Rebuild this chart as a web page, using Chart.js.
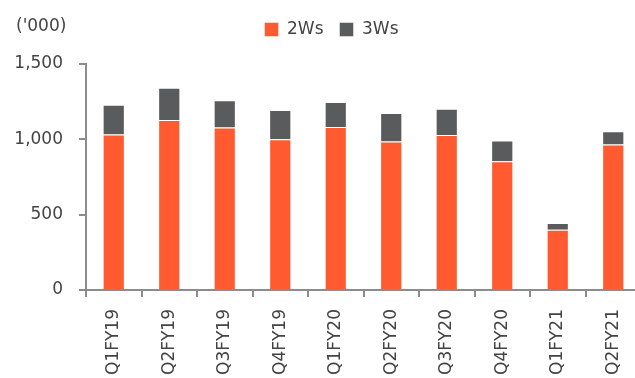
<!DOCTYPE html>
<html>
<head>
<meta charset="utf-8">
<script src="https://cdn.jsdelivr.net/npm/chart.js@4/dist/chart.umd.min.js"></script>
<style>
  html, body { margin: 0; padding: 0; background: #fff; }
  #wrap { width: 635px; height: 378px; position: relative; }
</style>
</head>
<body>
<div id="wrap"><canvas id="salesChart"></canvas></div>
<script>
// quarterly volumes, in '000 units
const quarters = ['Q1FY19', 'Q2FY19', 'Q3FY19', 'Q4FY19', 'Q1FY20', 'Q2FY20', 'Q3FY20', 'Q4FY20', 'Q1FY21', 'Q2FY21'];
const twoWheelers = [1032, 1128, 1078, 1001, 1082, 985, 1029, 855, 400, 966];
const threeWheelers = [198, 214, 182, 193, 165, 189, 174, 137, 45, 87];
const yTicks = [0, 500, 1000, 1500];

const axisGrey = '#8c8c8c';
const textColor = '#444';
const fontFamily = '"DejaVu Sans", sans-serif';

// unit label, top left
const unitLabel = {
    id: 'unitLabel',
    afterDraw(chart) {
        const c = chart.ctx;
        c.save();
        c.font = '17px ' + fontFamily;
        c.fillStyle = textColor;
        c.textBaseline = 'middle';
        c.fillText("('000)", 16, 27);
        c.restore();
    }
};

// extra room under the legend, legend nudged right,
// and the plot runs a little past the right edge like the original
const layoutTweak = {
    id: 'layoutTweak',
    beforeLayout(chart) {
        const l = chart.legend;
        if (l && !l._gapPatched) {
            const orig = l.fit;
            l.fit = function () { orig.call(this); this.height += 16; };
            l._gapPatched = true;
        }
    },
    afterLayout(chart) {
        const x = chart.scales.x;
        const right = 641;
        x.right = right;
        x.width = right - x.left;
        x.configure();
        chart.chartArea.right = right;
        chart.chartArea.width = right - chart.chartArea.left;
    },
    beforeDraw(chart) {
        const l = chart.legend;
        if (l) l.left = 28;
    }
};

new Chart(document.getElementById('salesChart'), {
    type: 'bar',
    data: {
        labels: quarters,
        datasets: [{
            label: '2Ws',
            data: twoWheelers,
            backgroundColor: '#ff5a30',
            borderColor: 'rgba(255,255,255,0.45)',
            borderWidth: 1,
            barPercentage: 0.8,
            categoryPercentage: 0.5
        }, {
            label: '3Ws',
            data: threeWheelers,
            backgroundColor: '#5a5b5d',
            borderColor: 'rgba(255,255,255,0.45)',
            borderWidth: 1,
            barPercentage: 0.8,
            categoryPercentage: 0.5
        }]
    },
    options: {
        responsive: true,
        maintainAspectRatio: false,
        animation: false,
        layout: { padding: { top: 5, right: 0, left: 0, bottom: 0 } },
        plugins: {
            legend: {
                position: 'top',
                labels: {
                    boxWidth: 14,
                    boxHeight: 14,
                    padding: 16,
                    color: textColor,
                    font: { family: fontFamily, size: 17 }
                }
            },
            tooltip: { enabled: false }
        },
        scales: {
            x: {
                stacked: true,
                afterFit: (scale) => {
                    scale.height = 88;
                    scale.paddingLeft = 0;
                    scale.paddingRight = 0;
                },
                border: { color: axisGrey, width: 2 },
                grid: {
                    offset: true,
                    drawOnChartArea: false,
                    color: axisGrey,
                    lineWidth: 2,
                    tickLength: 7
                },
                ticks: {
                    color: textColor,
                    minRotation: 90,
                    maxRotation: 90,
                    padding: 12,
                    font: { family: fontFamily, size: 17 }
                }
            },
            y: {
                stacked: true,
                min: 0,
                max: 1500,
                afterFit: (scale) => { scale.width = 86; },
                afterBuildTicks: (scale) => { scale.ticks = yTicks.map(v => ({ value: v })); },
                border: { color: axisGrey, width: 2 },
                grid: {
                    drawOnChartArea: false,
                    color: axisGrey,
                    lineWidth: 2,
                    tickLength: 7
                },
                ticks: {
                    color: textColor,
                    padding: 16,
                    font: { family: fontFamily, size: 17 },
                    callback: (v) => v.toLocaleString('en-US')
                }
            }
        }
    },
    plugins: [unitLabel, layoutTweak]
});
</script>
</body>
</html>
